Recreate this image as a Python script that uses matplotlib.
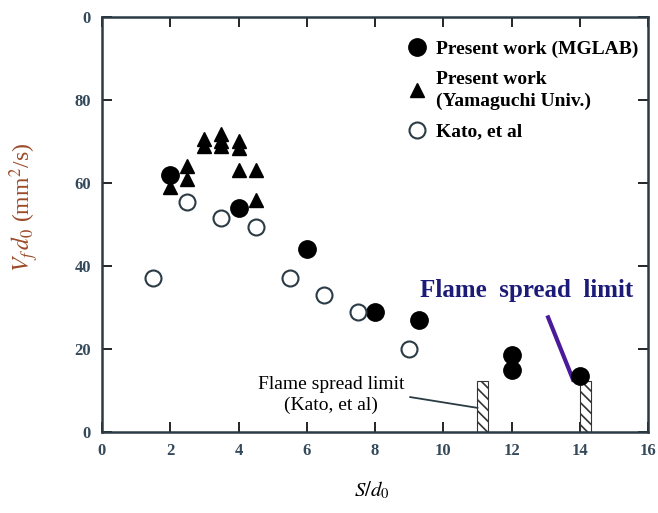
import matplotlib.pyplot as plt
import matplotlib as mpl

mpl.rcParams['hatch.linewidth'] = 1.2
mpl.rcParams['mathtext.fontset'] = 'stix'

# data
mglab_x = [2.0, 4.0, 6.0, 8.0, 9.3, 12.0, 12.0, 14.0]
mglab_y = [62.0, 54.0, 44.0, 29.0, 27.0, 18.5, 15.0, 13.5]

yama_x = [2.0, 2.5, 2.5, 3.0, 3.0, 3.5, 3.5, 3.5, 4.0, 4.0, 4.0, 4.5, 4.5]
yama_y = [59.0, 64.0, 61.0, 70.5, 68.8, 71.8, 70.0, 68.8, 70.0, 68.5, 63.0, 63.0, 56.0]

kato_x = [1.5, 2.5, 3.5, 4.5, 5.5, 6.5, 7.5, 9.0]
kato_y = [37.0, 55.5, 51.5, 49.5, 37.0, 33.0, 29.0, 20.0]

limit_x = [11.0, 14.0]
limit_h = [12.3, 12.3]

xticks = [0, 2, 4, 6, 8, 10, 12, 14, 16]
yticks = [0, 20, 40, 60, 80, 100]
ytick_labels = ['0', '20', '40', '60', '80', '0']

serif = ['Liberation Serif', 'DejaVu Serif']
tick_col = '#34495a'

fig = plt.figure(figsize=(6.58, 5.13), dpi=100)
ax = fig.add_axes([0.155, 0.158, 0.83, 0.809])

# hatched limit bars
ax.bar(limit_x, limit_h, width=0.32, align='edge', color='white',
       edgecolor='#333333', hatch='\\\\\\', linewidth=0.8, zorder=2)

ax.plot(mglab_x, mglab_y, 'o', color='black', markersize=12.5,
        label='Present work (MGLAB)', zorder=3)
ax.plot(yama_x, yama_y, '^', color='black', markersize=10,
        label='Present work\n(Yamaguchi Univ.)', zorder=3)
ax.plot(kato_x, kato_y, 'o', markerfacecolor='white', markeredgecolor='#2b3b45',
        markeredgewidth=1.5, markersize=11.5, label='Kato, et al', zorder=3)

# Kato limit annotation
ax.text(6.71, 8.9, 'Flame spread limit\n(Kato, et al)', ha='center', va='center',
        fontsize=14, family=serif, linespacing=1.35)
ax.plot([9.03, 11.0], [8.4, 5.8], color='#2b3b45', linewidth=1.3)

# present limit annotation
ax.text(12.45, 34.0, 'Flame  spread  limit', ha='center', va='center',
        fontsize=18, fontweight='bold', family=serif, color='#1c1c78')
ax.plot([13.07, 13.8], [27.6, 12.6], color='#4b1a9b', linewidth=3)

ax.set_xlim(0, 16)
ax.set_ylim(0, 100)
ax.set_xticks(xticks)
ax.set_yticks(yticks)
ax.set_yticklabels(ytick_labels)
ax.tick_params(direction='in', top=True, right=True, length=7, width=1.2,
               labelsize=12, labelcolor=tick_col, pad=8)
for lab in ax.get_xticklabels() + ax.get_yticklabels():
    lab.set_family(serif)
    lab.set_fontweight('bold')
for sp in ax.spines.values():
    sp.set_linewidth(1.8)
    sp.set_color('#2b3b45')

ax.set_xlabel(r'$S/d_0$', fontsize=15, family=serif)
ax.xaxis.set_label_coords(0.495, -0.116)
ax.set_ylabel(r'$V_f\,d_0$ (mm$^2$/s)', fontsize=17, color='#9a4a28',
              family=serif)
ax.yaxis.set_label_coords(-0.112, 0.542)

leg = ax.legend(loc='upper right', bbox_to_anchor=(1.0, 0.968), frameon=False,
                prop={'family': serif, 'weight': 'bold', 'size': 14},
                handletextpad=0.4, borderaxespad=0.1, labelspacing=0.7,
                handlelength=1.2)
for t in leg.get_texts():
    t.set_linespacing(1.3)

fig.savefig('out.png', dpi=100)
